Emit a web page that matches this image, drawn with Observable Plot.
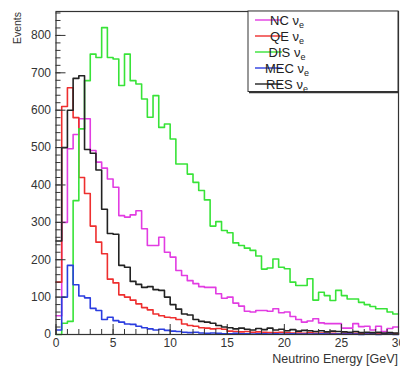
<!DOCTYPE html>
<html>
<head>
<meta charset="utf-8">
<script src="https://cdn.jsdelivr.net/npm/d3@7"></script>
<script src="https://cdn.jsdelivr.net/npm/@observablehq/plot@0.6"></script>
<style>
  html, body { margin: 0; padding: 0; background: #ffffff; }
  #chart { width: 400px; height: 367px; }
</style>
</head>
<body>
<div id="chart"></div>
<script>
// ---- data (bins of 0.5 GeV, lower edges) ----
const binLow = [0, 0.5, 1, 1.5, 2, 2.5, 3, 3.5, 4, 4.5,
  5, 5.5, 6, 6.5, 7, 7.5, 8, 8.5, 9, 9.5,
  10, 10.5, 11, 11.5, 12, 12.5, 13, 13.5, 14, 14.5,
  15, 15.5, 16, 16.5, 17, 17.5, 18, 18.5, 19, 19.5,
  20, 20.5, 21, 21.5, 22, 22.5, 23, 23.5, 24, 24.5,
  25, 25.5, 26, 26.5, 27, 27.5, 28, 28.5, 29, 29.5];
const lastEdge = 30;

const seriesNames = ["NC", "QE", "DIS", "MEC", "RES"];
const seriesColors = ["#e23ce2", "#ee2f2f", "#38e338", "#2b3de0", "#222222"];

const NC = [50, 300, 497, 535, 577, 577, 492, 461, 445, 416,
  394, 318, 314, 320, 331, 283, 238, 238, 260, 220,
  207, 171, 158, 144, 136, 128, 126, 126, 109, 97,
  100, 84, 76, 62, 60, 64, 64, 62, 69, 58,
  60, 48, 40, 33, 36, 42, 31, 29, 29, 29,
  17, 17, 29, 21, 22, 12, 22, 8, 16, 20];
const QE = [140, 610, 660, 580, 420, 377, 290, 247, 216, 148,
  138, 106, 100, 92, 82, 72, 66, 55, 50, 46,
  45, 40, 28, 24, 22, 18, 17, 15, 16, 14,
  9, 8, 7, 8, 6, 7, 6, 5, 5, 6,
  5, 4, 4, 3, 5, 3, 4, 3, 3, 2,
  3, 2, 3, 2, 2, 1, 2, 2, 1, 2];
const DIS = [0, 30, 35, 358, 550, 679, 750, 741, 821, 741,
  737, 666, 750, 679, 670, 630, 581, 639, 554, 563,
  523, 456, 456, 429, 407, 385, 360, 290, 302, 278,
  272, 245, 238, 231, 225, 210, 175, 178, 202, 180,
  176, 140, 131, 131, 149, 92, 113, 104, 91, 118,
  104, 95, 95, 86, 80, 75, 69, 69, 60, 55];
const MEC = [12, 100, 185, 133, 103, 98, 70, 64, 40, 46,
  37, 33, 28, 27, 22, 18, 15, 12, 14, 11,
  9, 8, 6, 5, 6, 4, 3, 4, 3, 2,
  2, 3, 2, 2, 1, 2, 2, 1, 2, 1,
  1, 2, 1, 1, 1, 1, 2, 1, 1, 1,
  1, 1, 1, 0, 1, 1, 0, 1, 1, 0];
const RES = [250, 500, 600, 685, 692, 495, 485, 440, 335, 270,
  268, 185, 180, 142, 134, 126, 128, 120, 118, 100,
  80, 68, 55, 52, 40, 35, 33, 30, 24, 20,
  18, 15, 17, 14, 12, 16, 13, 17, 12, 14,
  10, 13, 9, 11, 10, 8, 10, 7, 9, 8,
  7, 6, 8, 5, 6, 5, 6, 4, 5, 4];

const xTicks = [0, 5, 10, 15, 20, 25, 30];
const xMinorTicks = [0, 1, 2, 3, 4, 5, 6, 7, 8, 9, 10, 11, 12, 13, 14, 15, 16, 17, 18, 19, 20,
  21, 22, 23, 24, 25, 26, 27, 28, 29, 30];
const yTicks = [0, 100, 200, 300, 400, 500, 600, 700, 800];
const yMinorTicks = [0, 20, 40, 60, 80, 100, 120, 140, 160, 180, 200, 220, 240, 260, 280, 300,
  320, 340, 360, 380, 400, 420, 440, 460, 480, 500, 520, 540, 560, 580, 600, 620, 640, 660,
  680, 700, 720, 740, 760, 780, 800, 820, 840, 860];
const xLabel = "Neutrino Energy [GeV]";
const yLabel = "Events";
const legendSuffix = "ν";
const legendSub = "e";

// ---- build table ----
const valuesByName = {NC, QE, DIS, MEC, RES};
const rows = [];
for (const name of seriesNames) {
  const vals = valuesByName[name];
  binLow.forEach((x, i) => rows.push({series: name, x, v: vals[i]}));
  rows.push({series: name, x: lastEdge, v: vals[vals.length - 1]});
}

const FONT = "'Liberation Sans', Arial, Helvetica, sans-serif";

function overlay(index, scales, values, dim) {
  const g = d3.create("svg:g").attr("font-family", FONT);
  const left = dim.marginLeft, right = dim.width - dim.marginRight;
  const top = dim.marginTop, bottom = dim.height - dim.marginBottom;
  // legend box
  const lx0 = right - 150, ly0 = top, ly1 = top + 80.5;
  g.append("rect").attr("x", lx0).attr("y", ly0).attr("width", right - lx0).attr("height", ly1 - ly0)
    .attr("fill", "#fff").attr("stroke", "#333").attr("stroke-width", 1);
  g.append("line").attr("x1", lx0 + 1).attr("x2", right).attr("y1", ly1 + 1).attr("y2", ly1 + 1)
    .attr("stroke", "#333").attr("stroke-width", 1.5);
  seriesNames.forEach((name, i) => {
    const cy = ly0 + 9 + 16 * i;
    g.append("line").attr("x1", lx0 + 7).attr("x2", lx0 + 34).attr("y1", cy).attr("y2", cy)
      .attr("stroke", seriesColors[i]).attr("stroke-width", 1.4);
    const t = g.append("text").attr("x", lx0 + 39).attr("y", cy + 4.5).attr("font-size", 13).attr("fill", "#222");
    t.append("tspan").text(name + " " + legendSuffix);
    t.append("tspan").attr("dy", 3).attr("font-size", 9).text(legendSub);
  });
  // axis titles
  g.append("text").attr("transform", `translate(${left - 38},${top + 1}) rotate(-90)`)
    .attr("text-anchor", "end").attr("dy", "0.35em").attr("font-size", 10.5).attr("fill", "#333").text(yLabel);
  g.append("text").attr("x", right).attr("y", bottom + 29).attr("text-anchor", "end")
    .attr("font-size", 12.5).attr("fill", "#333").text(xLabel);
  return g.node();
}

const chart = Plot.plot({
  width: 400,
  height: 367,
  marginLeft: 55.5,
  marginRight: 2,
  marginTop: 11,
  marginBottom: 33,
  style: {fontFamily: FONT, background: "#ffffff", color: "#333"},
  x: {domain: [0, 30]},
  y: {domain: [0, 864]},
  color: {domain: seriesNames, range: seriesColors},
  marks: [
    Plot.line(rows, {x: "x", y: "v", z: "series", stroke: "series", curve: "step-after", strokeWidth: 1.6}),
    Plot.axisY(yMinorTicks, {anchor: "left", tickSize: -5, fill: "none", label: null, stroke: "#333"}),
    Plot.axisY(yTicks, {anchor: "left", tickSize: -10, tickPadding: 15, label: null, stroke: "#333", fill: "#333", fontSize: 12}),
    Plot.axisX(xMinorTicks, {anchor: "bottom", tickSize: -5, fill: "none", label: null, stroke: "#333"}),
    Plot.axisX(xTicks, {anchor: "bottom", tickSize: -10, tickPadding: 14, label: null, stroke: "#333", fill: "#333", fontSize: 12}),
    Plot.frame({stroke: "#333", strokeWidth: 1.2}),
    overlay
  ]
});
document.getElementById("chart").appendChild(chart);
</script>
</body>
</html>
